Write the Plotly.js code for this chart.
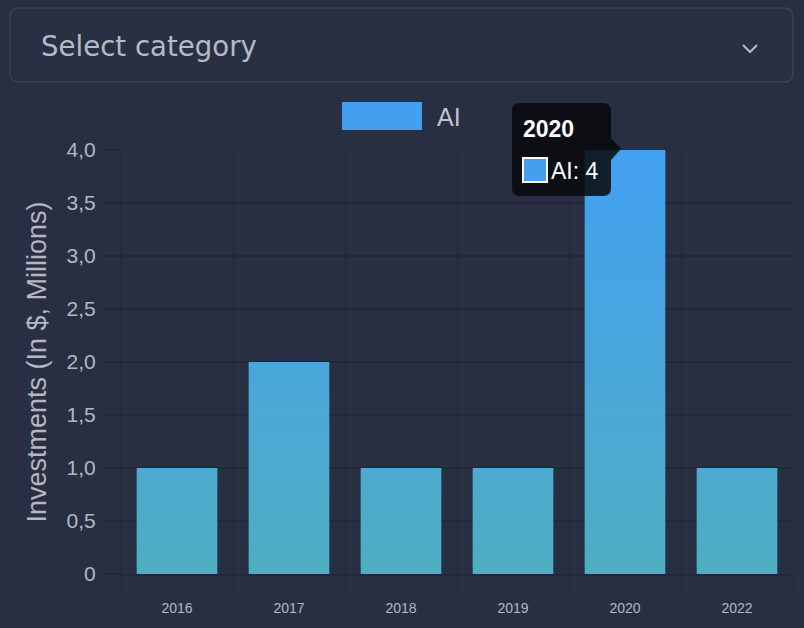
<!DOCTYPE html>
<html>
<head>
<meta charset="utf-8">
<script src="https://cdn.plot.ly/plotly-3.0.1.min.js"></script>
<style>
html,body{margin:0;padding:0;background:#292f43;}
#chart{width:804px;height:628px;}
</style>
</head>
<body>
<div id="chart"></div>
<script>
const years = ['2016','2017','2018','2019','2020','2022'];
const aiValues = [1, 2, 1, 1, 4, 1];
const yTickVals = [0, 0.5, 1, 1.5, 2, 2.5, 3, 3.5, 4];
const yTickText = ['0','0,5','1,0','1,5','2,0','2,5','3,0','3,5','4,0'];
const seriesName = 'AI';
const tooltipYear = '2020';
const tooltipValue = 4;

const W = 804, H = 628;
const M = {l:121, r:11, t:150, b:54};
const PW = W - M.l - M.r, PH = H - M.t - M.b;
const px = x => (x - M.l) / PW;
const py = y => (H - M.b - y) / PH;

function roundRect(x0, y0, x1, y1, r) {
  return 'M' + px(x0 + r) + ',' + py(y0) +
    ' L' + px(x1 - r) + ',' + py(y0) +
    ' Q' + px(x1) + ',' + py(y0) + ' ' + px(x1) + ',' + py(y0 + r) +
    ' L' + px(x1) + ',' + py(y1 - r) +
    ' Q' + px(x1) + ',' + py(y1) + ' ' + px(x1 - r) + ',' + py(y1) +
    ' L' + px(x0 + r) + ',' + py(y1) +
    ' Q' + px(x0) + ',' + py(y1) + ' ' + px(x0) + ',' + py(y1 - r) +
    ' L' + px(x0) + ',' + py(y0 + r) +
    ' Q' + px(x0) + ',' + py(y0) + ' ' + px(x0 + r) + ',' + py(y0) + ' Z';
}
function tipPath(x0, y0, x1, y1, r) {
  return 'M' + px(x0 + r) + ',' + py(y0) +
    ' L' + px(x1 - r) + ',' + py(y0) +
    ' Q' + px(x1) + ',' + py(y0) + ' ' + px(x1) + ',' + py(y0 + r) +
    ' L' + px(x1) + ',' + py(138) +
    ' L' + px(x1 + 10) + ',' + py(149) +
    ' L' + px(x1) + ',' + py(160) +
    ' L' + px(x1) + ',' + py(y1 - r) +
    ' Q' + px(x1) + ',' + py(y1) + ' ' + px(x1 - r) + ',' + py(y1) +
    ' L' + px(x0 + r) + ',' + py(y1) +
    ' Q' + px(x0) + ',' + py(y1) + ' ' + px(x0) + ',' + py(y1 - r) +
    ' L' + px(x0) + ',' + py(y0 + r) +
    ' Q' + px(x0) + ',' + py(y0) + ' ' + px(x0 + r) + ',' + py(y0) + ' Z';
}

const trace = {
  type: 'bar',
  x: years,
  y: aiValues,
  name: seriesName,
  width: 0.72,
  marker: {color: '#4aa7d4', line: {width: 0}},
  hoverinfo: 'none',
  showlegend: false
};

const gridCol = '#22273a';
const tickFont = {family: 'Liberation Sans, Arial, sans-serif', size: 14, color: '#b3b7c2'};

const layout = {
  width: W, height: H,
  margin: M,
  paper_bgcolor: '#292f43',
  plot_bgcolor: '#292f43',
  showlegend: false,
  bargap: 0.28,
  xaxis: {
    type: 'category',
    range: [-0.5, 5.5],
    tickson: 'boundaries',
    showgrid: true, gridcolor: gridCol, gridwidth: 1,
    ticks: 'outside', ticklen: 16, tickcolor: gridCol, tickwidth: 1,
    showline: true, linecolor: gridCol, linewidth: 2,
    tickfont: tickFont,
    ticklabelstandoff: 20,
    zeroline: false,
    fixedrange: true
  },
  yaxis: {
    range: [0, 4],
    tickvals: yTickVals,
    ticktext: yTickText,
    showgrid: true, gridcolor: gridCol, gridwidth: 1.5,
    ticks: 'outside', ticklen: 16, tickcolor: gridCol, tickwidth: 1.5,
    showline: true, linecolor: gridCol, linewidth: 1,
    zeroline: false,
    ticklabelstandoff: 4,
    tickfont: {family: 'Liberation Sans, Arial, sans-serif', size: 21, color: '#b3b7c2'},
    title: {text: 'Investments (In $, Millions)', standoff: 12,
            font: {family: 'Liberation Sans, Arial, sans-serif', size: 27, color: '#b3b7c2'}},
    fixedrange: true
  },
  shapes: [
    {type: 'path', xref: 'paper', yref: 'paper', path: roundRect(10, 8, 793, 82, 9),
     fillcolor: '#2a3044', line: {color: '#3b4255', width: 1.5}, layer: 'below'},
    {type: 'path', xref: 'paper', yref: 'paper',
     path: 'M' + px(743) + ',' + py(45) + ' L' + px(750) + ',' + py(52) + ' L' + px(757) + ',' + py(45),
     line: {color: '#b7bbc6', width: 2}},
    {type: 'rect', xref: 'paper', yref: 'paper', x0: px(342), x1: px(422), y0: py(102), y1: py(130),
     fillcolor: '#43a0f0', line: {width: 0}},
    {type: 'path', xref: 'paper', yref: 'paper', path: tipPath(512, 103, 611, 196, 8),
     fillcolor: 'rgba(8,9,12,0.86)', line: {width: 0}},
    {type: 'rect', xref: 'paper', yref: 'paper', x0: px(523), x1: px(547), y0: py(158), y1: py(182),
     fillcolor: '#43a0f0', line: {color: '#ffffff', width: 2}}
  ],
  annotations: [
    {xref: 'paper', yref: 'paper', x: px(39), y: py(46), xanchor: 'left', yanchor: 'middle',
     text: 'Select category', showarrow: false,
     font: {family: 'DejaVu Sans, sans-serif', size: 27.6, color: '#b6bac5'}},
    {xref: 'paper', yref: 'paper', x: px(435), y: py(117), xanchor: 'left', yanchor: 'middle',
     text: seriesName, showarrow: false,
     font: {family: 'Liberation Sans, Arial, sans-serif', size: 25, color: '#c0c4ce'}},
    {xref: 'paper', yref: 'paper', x: px(521), y: py(129), xanchor: 'left', yanchor: 'middle',
     text: '<b>' + tooltipYear + '</b>', showarrow: false,
     font: {family: 'Liberation Sans, Arial, sans-serif', size: 23, color: '#ffffff'}},
    {xref: 'paper', yref: 'paper', x: px(549), y: py(171), xanchor: 'left', yanchor: 'middle',
     text: seriesName + ': ' + tooltipValue, showarrow: false,
     font: {family: 'Liberation Sans, Arial, sans-serif', size: 23, color: '#ffffff'}}
  ]
};

Plotly.newPlot('chart', [trace], layout, {displayModeBar: false, staticPlot: true}).then(gd => {
  const svg = gd.querySelector('.main-svg');
  const NS = 'http://www.w3.org/2000/svg';
  let defs = svg.querySelector('defs');
  if (!defs) { defs = document.createElementNS(NS, 'defs'); svg.insertBefore(defs, svg.firstChild); }
  const g = document.createElementNS(NS, 'linearGradient');
  g.setAttribute('id', 'barGrad');
  g.setAttribute('gradientUnits', 'userSpaceOnUse');
  g.setAttribute('x1', '0'); g.setAttribute('x2', '0');
  g.setAttribute('y1', '0'); g.setAttribute('y2', String(PH));
  [['0', '#42a0f2'], ['1', '#4faec3']].forEach(([o, c]) => {
    const s = document.createElementNS(NS, 'stop');
    s.setAttribute('offset', o); s.setAttribute('stop-color', c);
    g.appendChild(s);
  });
  defs.appendChild(g);
  gd.querySelectorAll('.barlayer .point path').forEach(p => {
    p.style.fill = 'url(#barGrad)';
  });
});
</script>
</body>
</html>
